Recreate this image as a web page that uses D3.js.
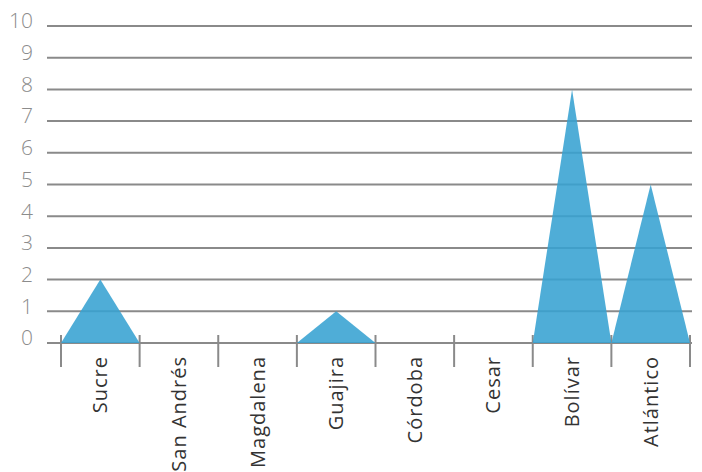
<!DOCTYPE html>
<html><head><meta charset="utf-8">
<script src="https://cdn.jsdelivr.net/npm/d3@7/dist/d3.min.js"></script>
<style>body{margin:0;background:#fff}svg{display:block}</style>
</head><body><svg id="c" width="702" height="472"></svg>
<script>
const categories = ["Sucre","San Andrés","Magdalena","Guajira","Córdoba","Cesar","Bolívar","Atlántico"];
const values = [2,0,0,1,0,0,8,5];
const yTicks = [0,1,2,3,4,5,6,7,8,9,10];

const svg = d3.select("#c");
const x = d3.scaleBand().domain(categories).range([61,690]).padding(0);
const y = d3.scaleLinear().domain([0,10]).range([343,26]);
const gridL = 47, gridR = 692;

// gridlines
svg.append("g").selectAll("line").data(yTicks).join("line")
  .attr("x1",gridL).attr("x2",gridR)
  .attr("y1",d=>y(d)).attr("y2",d=>y(d))
  .attr("stroke","#8a8a8a").attr("stroke-width",2);

// y labels
svg.append("g").selectAll("text").data(yTicks).join("text")
  .attr("x",33).attr("y",d=>y(d)-5).attr("dy","0.35em")
  .attr("text-anchor","end")
  .attr("font-family","'Open Sans', sans-serif").attr("font-weight",300)
  .attr("font-size",21).attr("fill","#8c8c8c")
  .text(d=>d);

// x ticks at band boundaries
const bounds = categories.map(c=>x(c)).concat([x(categories[categories.length-1])+x.bandwidth()]);
svg.append("g").selectAll("line").data(bounds).join("line")
  .attr("x1",d=>d).attr("x2",d=>d).attr("y1",y(0)-8).attr("y2",y(0)+24)
  .attr("stroke","#8a8a8a").attr("stroke-width",2);

// triangles
svg.append("g").selectAll("path").data(categories.map((c,i)=>({c,v:values[i]})).filter(d=>d.v>0)).join("path")
  .attr("d",d=>{const x0=x(d.c),x1=x0+x.bandwidth(),xm=x0+x.bandwidth()/2;return `M${x0},${y(0)}L${xm},${y(d.v)}L${x1},${y(0)}Z`;})
  .attr("fill","#37a2d2").attr("fill-opacity",0.88);

// x labels
svg.append("g").selectAll("text").data(categories).join("text")
  .attr("transform",d=>`translate(${x(d)+x.bandwidth()/2},356) rotate(-90)`)
  .attr("dy","0.35em").attr("text-anchor","end")
  .attr("font-family","'Open Sans', sans-serif").attr("font-size",20).attr("fill","#333")
  .attr("letter-spacing","1px")
  .text(d=>d);
</script></body></html>
